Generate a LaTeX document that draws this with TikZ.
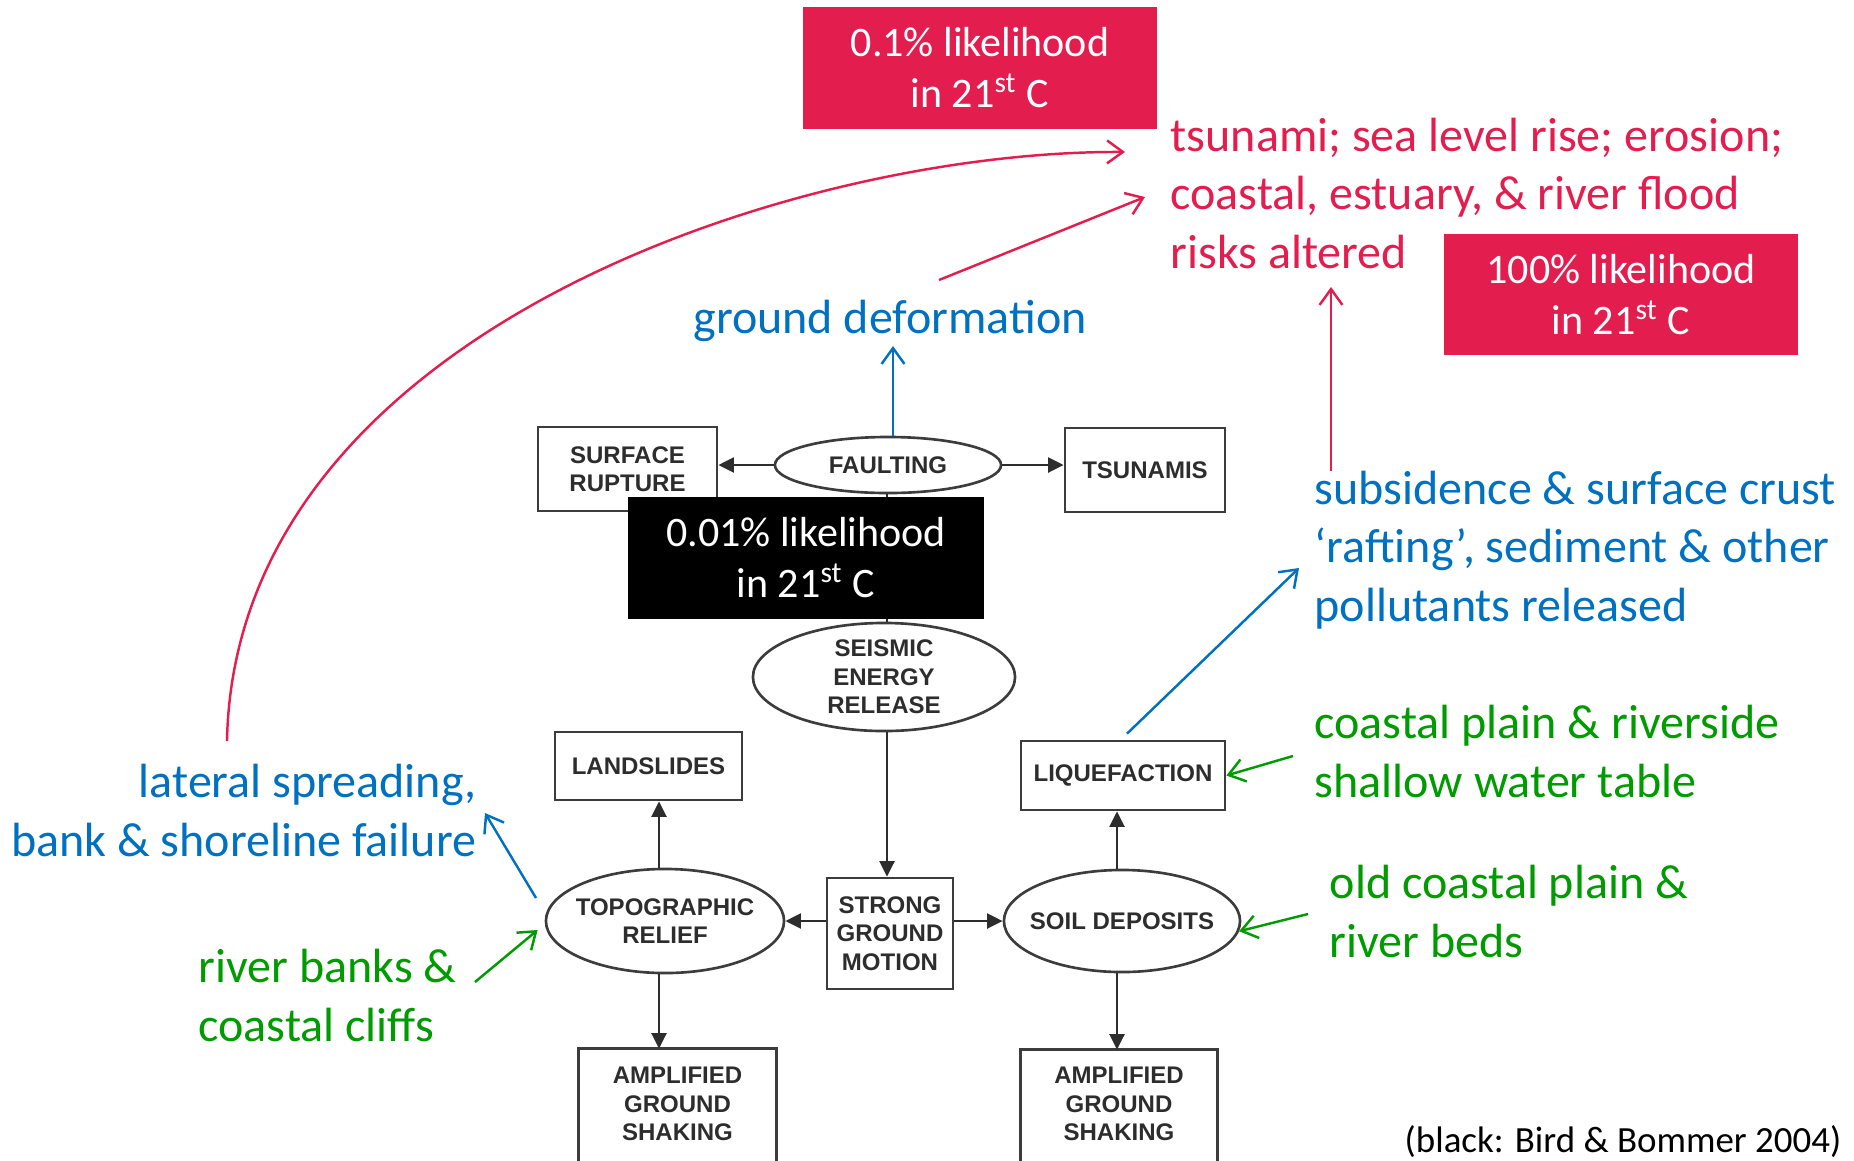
\documentclass[tikz,border=0pt]{standalone}
\usepackage{fontspec}
\setmainfont{Carlito}
\newfontfamily\diagfont{Liberation Sans}
\usetikzlibrary{arrows.meta,shapes.geometric}

\definecolor{hazRed}{RGB}{227,30,79}
\definecolor{effBlue}{RGB}{0,112,192}
\definecolor{siteGreen}{RGB}{0,155,0}
\definecolor{inkGray}{RGB}{45,45,45}
\definecolor{edgeGray}{RGB}{60,60,60}

\newcommand\bigtxt{\fontsize{13.66pt}{16.5pt}\selectfont}
\newcommand\tagtxt{\fontsize{11.95pt}{14.5pt}\selectfont}
\newcommand\dgtxt{\diagfont\bfseries\fontsize{6.83pt}{8.08pt}\selectfont}
\newcommand\credtxt{\fontsize{10.5pt}{12.6pt}\selectfont}

\tikzset{
  % likelihood tags
  tag/.style={fill=hazRed, text=white, inner sep=0pt, align=center, font=\tagtxt},
  blacktag/.style={tag, fill=black},
  % flowchart shapes
  dbox/.style={draw=edgeGray, line width=0.75pt, fill=white, inner sep=0pt,
               align=center, font=\dgtxt, text=inkGray},
  % ellipses keep exactly their minimum size, whatever the text
  dell/.style={dbox, ellipse, inner sep=-30pt},
  flow/.style={draw=inkGray, line width=0.8pt,
               -{Triangle[length=4.4pt,width=4.2pt]}},
  % annotations (multi-line blocks are placed by their last baseline)
  note/.style={inner sep=0pt, font=\bigtxt},
  redarr/.style={draw=hazRed, line width=0.7pt, -{Straight Barb[length=4.5pt,width=6.5pt]}},
  bluearr/.style={redarr, draw=effBlue},
  greenarr/.style={redarr, draw=siteGreen}
}

\begin{document}
\begin{tikzpicture}[x=0.01cm, y=-0.01cm]
\useasboundingbox (0,0) rectangle (1854,1160);
\clip (0,0) rectangle (1854,1160);

% ---- flowchart (Bird & Bommer) ----
\node[dbox, minimum width=1.79cm, minimum height=0.84cm] (rup) at (627.5,469) {SURFACE\\RUPTURE};
\node[dell, minimum width=2.26cm, minimum height=0.56cm] (fault) at (888,465) {FAULTING};
\node[dbox, minimum width=1.60cm, minimum height=0.84cm] (tsu) at (1145,470) {TSUNAMIS};
\node[dell, minimum width=2.62cm, minimum height=1.08cm] (seis) at (884,677) {SEISMIC\\ENERGY\\RELEASE};
\node[dbox, minimum width=1.26cm, minimum height=1.11cm] (strong) at (890,933.5) {STRONG\\GROUND\\MOTION};
\node[dell, minimum width=2.38cm, minimum height=1.04cm] (topo) at (665,921) {TOPOGRAPHIC\\RELIEF};
\node[dell, minimum width=2.36cm, minimum height=1.02cm] (soil) at (1122,921) {SOIL DEPOSITS};
\node[dbox, minimum width=1.87cm, minimum height=0.68cm] (land) at (648.5,766) {LANDSLIDES};
\node[dbox, minimum width=2.04cm, minimum height=0.69cm] (liq) at (1123,775.5) {LIQUEFACTION};
\node[dbox, draw=none, fill=none, minimum width=1.95cm, minimum height=1.08cm] (amplL) at (677.5,1104) {AMPLIFIED\\GROUND\\SHAKING};
\node[dbox, draw=none, fill=none, minimum width=1.94cm, minimum height=1.06cm] (amplR) at (1119,1104) {AMPLIFIED\\GROUND\\SHAKING};

% open-bottomed boxes running off the lower edge
\draw[edgeGray, line width=0.75pt]
  ([yshift=-0.2cm]amplL.south west) -- (amplL.north west) -- (amplL.north east) -- ([yshift=-0.2cm]amplL.south east);
\draw[edgeGray, line width=0.75pt]
  ([yshift=-0.2cm]amplR.south west) -- (amplR.north west) -- (amplR.north east) -- ([yshift=-0.2cm]amplR.south east);

% flowchart connectors
\draw[flow] (fault.west) -- (fault.west -| rup.east);
\draw[flow] (fault.east) -- (fault.east -| tsu.west);
\draw[inkGray, line width=0.8pt] ([xshift=-0.01cm]fault.south) -- ([xshift=-0.01cm]fault.south |- seis.north);
\draw[flow] ([xshift=0.03cm]seis.south) -- ([xshift=0.03cm]seis.south |- strong.north);
\draw[flow] (strong.west |- topo.east) -- (topo.east);
\draw[flow] (strong.east |- soil.west) -- (soil.west);
\draw[flow] ([xshift=-0.06cm]topo.north) -- ([xshift=-0.06cm]topo.north |- land.south);
\draw[flow] ([xshift=-0.06cm]topo.south) -- ([xshift=-0.06cm]topo.south |- amplL.north);
\draw[flow] ([xshift=-0.05cm]soil.north) -- ([xshift=-0.05cm]soil.north |- liq.south);
\draw[flow] ([xshift=-0.05cm]soil.south) -- ([xshift=-0.05cm]soil.south |- amplR.north);

% ---- likelihood tags ----
\node[tag, minimum width=3.53cm, minimum height=1.21cm] (tagLow) at (980,68) {0.1\% likelihood\\in 21\textsuperscript{st} C};
\node[tag, minimum width=3.54cm, minimum height=1.21cm] (tagAll) at (1621,294.5) {100\% likelihood\\in 21\textsuperscript{st} C};
\node[blacktag, minimum width=3.56cm, minimum height=1.21cm] (tagRare) at (806,558) {0.01\% likelihood\\in 21\textsuperscript{st} C};

% ---- annotations ----
\node[note, text=hazRed, anchor=base west, align=left] (risks) at (1170,268)
  {tsunami; sea level rise; erosion;\\coastal, estuary, \& river flood\\risks altered};
\node[note, text=effBlue, anchor=base] (gd) at (890,333) {ground deformation};
\node[note, text=effBlue, anchor=base west, align=left] (subs) at (1314,621)
  {subsidence \& surface crust\\‘rafting’, sediment \& other\\pollutants released};
\node[note, text=siteGreen, anchor=base west, align=left] (plain) at (1314,797)
  {coastal plain \& riverside\\shallow water table};
\node[note, text=siteGreen, anchor=base west, align=left] (oldplain) at (1329,957)
  {old coastal plain \&\\river beds};
\node[note, text=effBlue, anchor=base east, align=right] (lat) at (477,856)
  {lateral spreading,\\bank \& shoreline failure};
\node[note, text=siteGreen, anchor=base west, align=left] (banks) at (198,1041)
  {river banks \&\\coastal cliffs};
\node[inner sep=0pt, font=\credtxt, anchor=base east] (credit) at (1842,1152)
  {(black: Bird \& Bommer 2004)};

% annotation arrow ends
\coordinate (gdTip) at (893,346);
\coordinate (curveStart) at (227,741);
\coordinate (curveTip) at (1125,152);
\coordinate (slantStart) at (939,280);
\coordinate (slantTip) at (1145,197);
\coordinate (riseStart) at (1331,471);
\coordinate (riseTip) at (1331,287);
\coordinate (liqTip) at (1299,568);
\coordinate (latStart) at (536,898);
\coordinate (latTip) at (485,813);
\coordinate (banksStart) at (475,982);
\coordinate (plainStart) at (1293,756);
\coordinate (oldStart) at (1308,914);

% annotation arrows
\draw[bluearr] (fault.north -| gdTip) -- (gdTip);
\draw[redarr] (curveStart) .. controls (235,330) and (800,150) .. (curveTip);
\draw[redarr] (slantStart) -- (slantTip);
\draw[redarr] (riseStart) -- (riseTip);
\draw[bluearr] ([shift={(0.04cm,0.06cm)}]liq.north) -- (liqTip);
\draw[bluearr] (latStart) -- (latTip);
\draw[greenarr] (banksStart) -- ([shift={(-0.07cm,-0.09cm)}]topo.west);
\draw[greenarr] (plainStart) -- (liq.east);
\draw[greenarr] (oldStart) -- (soil.-5);
\end{tikzpicture}
\end{document}
